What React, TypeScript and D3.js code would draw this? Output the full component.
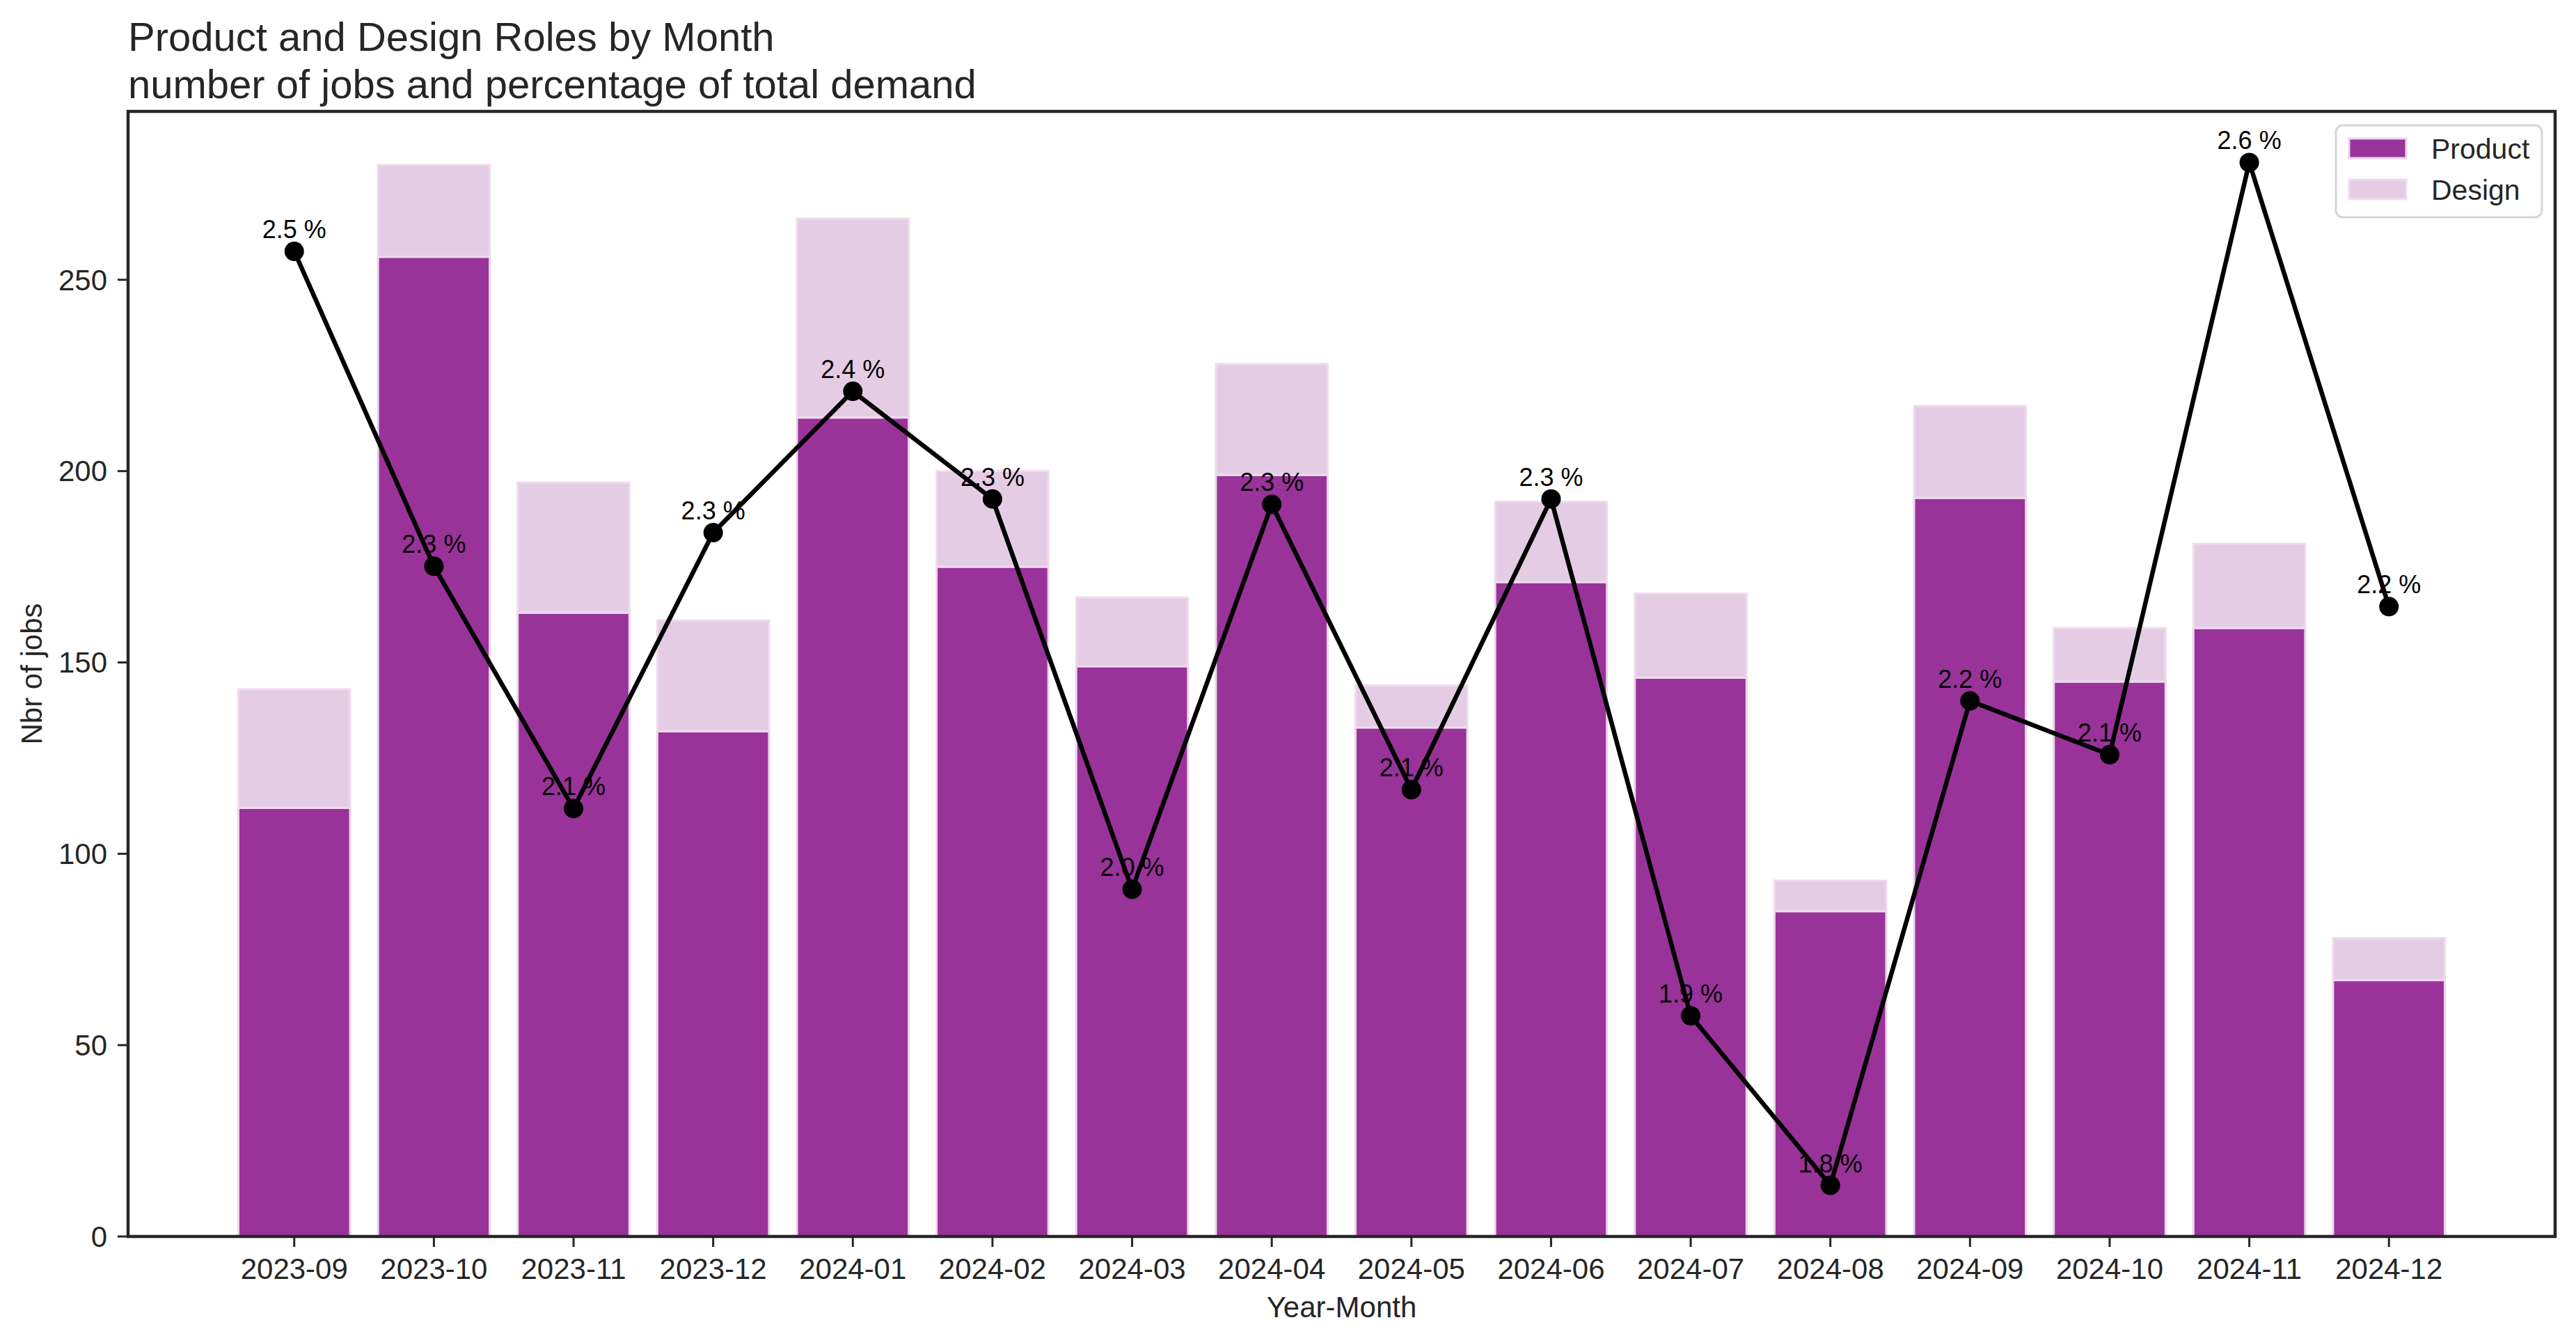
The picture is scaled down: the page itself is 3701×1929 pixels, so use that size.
import React from "react";
import * as d3 from "d3";

const months = [
  "2023-09", "2023-10", "2023-11", "2023-12", "2024-01", "2024-02", "2024-03", "2024-04",
  "2024-05", "2024-06", "2024-07", "2024-08", "2024-09", "2024-10", "2024-11", "2024-12",
];
const product = [112, 256, 163, 132, 214, 175, 149, 199, 133, 171, 146, 85, 193, 145, 159, 67];
const design = [31, 24, 34, 29, 52, 25, 18, 29, 11, 21, 22, 8, 24, 14, 22, 11];
// share of total demand, in percent
const share = [2.494, 2.26, 2.08, 2.285, 2.39, 2.31, 2.02, 2.306, 2.094, 2.31, 1.926, 1.8, 2.16, 2.12, 2.56, 2.23];
const yTicks = [0, 50, 100, 150, 200, 250];

const W = 3701;
const H = 1929;
const left = 184, right = 3671, top = 160, bottom = 1776;
const font = "'Liberation Sans', Arial, sans-serif";
const ink = "#262626";
const purple = "#993399";
const light = "#e5cce5";

const App = () => {
  const x = d3.scaleBand<string>().domain(months).range([left, right]).paddingInner(0.2).paddingOuter(0.79);
  const totals = product.map((p, i) => p + design[i]);
  const y = d3.scaleLinear().domain([0, (d3.max(totals) as number) * 1.05]).range([bottom, top]);

  const [lo, hi] = d3.extent(share) as [number, number];
  const pad = (hi - lo) * 0.05;
  const y2 = d3.scaleLinear().domain([lo - pad, hi + pad]).range([bottom, top]);

  const cx = (m: string) => (x(m) as number) + x.bandwidth() / 2;
  const line = d3
    .line<number>()
    .x((_, i) => cx(months[i]))
    .y((d) => y2(d));

  return (
    <svg width={W} height={H} style={{ position: "absolute", left: 0, top: 0, display: "block", background: "#fff" }}>
      <rect x={0} y={0} width={W} height={H} fill="#fff" />
      {/* title */}
      <text x={left} y={73} fontFamily={font} fontSize={58} fill={ink}>
        Product and Design Roles by Month
      </text>
      <text x={left} y={141} fontFamily={font} fontSize={58} fill={ink}>
        number of jobs and percentage of total demand
      </text>

      {/* bars */}
      {months.map((m, i) => (
        <g key={m}>
          <rect
            x={x(m)}
            y={y(product[i])}
            width={x.bandwidth()}
            height={y(0) - y(product[i])}
            fill={purple}
            stroke="#ead4ea"
            strokeWidth={3}
          />
          <rect
            x={x(m)}
            y={y(totals[i])}
            width={x.bandwidth()}
            height={y(product[i]) - y(totals[i])}
            fill={light}
            stroke="#eedcee"
            strokeWidth={3}
          />
        </g>
      ))}

      {/* share line */}
      <path d={line(share) as string} fill="none" stroke="#000" strokeWidth={6.5} strokeLinejoin="round" />
      {share.map((s, i) => (
        <circle key={i} cx={cx(months[i])} cy={y2(s)} r={14} fill="#000" />
      ))}
      {share.map((s, i) => (
        <text
          key={i}
          x={cx(months[i])}
          y={y2(s) - 19}
          textAnchor="middle"
          fontFamily={font}
          fontSize={36}
          fill="#000"
        >
          {s.toFixed(1)} %
        </text>
      ))}

      {/* spines */}
      <rect x={left} y={top} width={right - left} height={bottom - top} fill="none" stroke={ink} strokeWidth={4.5} />

      {/* y axis */}
      {yTicks.map((t) => (
        <g key={t}>
          <line x1={left - 15} x2={left} y1={y(t)} y2={y(t)} stroke={ink} strokeWidth={3} />
          <text
            x={left - 30}
            y={y(t)}
            dy="0.35em"
            textAnchor="end"
            fontFamily={font}
            fontSize={42}
            fill={ink}
          >
            {t}
          </text>
        </g>
      ))}
      <text
        transform={`translate(60,${(top + bottom) / 2}) rotate(-90)`}
        textAnchor="middle"
        fontFamily={font}
        fontSize={42}
        fill={ink}
      >
        Nbr of jobs
      </text>

      {/* x axis */}
      {months.map((m) => (
        <g key={m}>
          <line x1={cx(m)} x2={cx(m)} y1={bottom} y2={bottom + 15} stroke={ink} strokeWidth={3} />
          <text x={cx(m)} y={1837} textAnchor="middle" fontFamily={font} fontSize={42} fill={ink}>
            {m}
          </text>
        </g>
      ))}
      <text x={(left + right) / 2} y={1892} textAnchor="middle" fontFamily={font} fontSize={42} fill={ink}>
        Year-Month
      </text>

      {/* legend */}
      <g>
        <rect x={3356} y={180} width={296} height={132} rx={10} fill="#fff" fillOpacity={0.8} stroke="#d6d6d6" strokeWidth={3} />
        <rect x={3375} y={199} width={82} height={28} fill={purple} stroke="#ead4ea" strokeWidth={3} />
        <text x={3493} y={228} fontFamily={font} fontSize={41} fill={ink}>
          Product
        </text>
        <rect x={3375} y={258} width={82} height={28} fill={light} stroke="#eedcee" strokeWidth={3} />
        <text x={3493} y={287} fontFamily={font} fontSize={41} fill={ink}>
          Design
        </text>
      </g>
    </svg>
  );
};

export default App;
